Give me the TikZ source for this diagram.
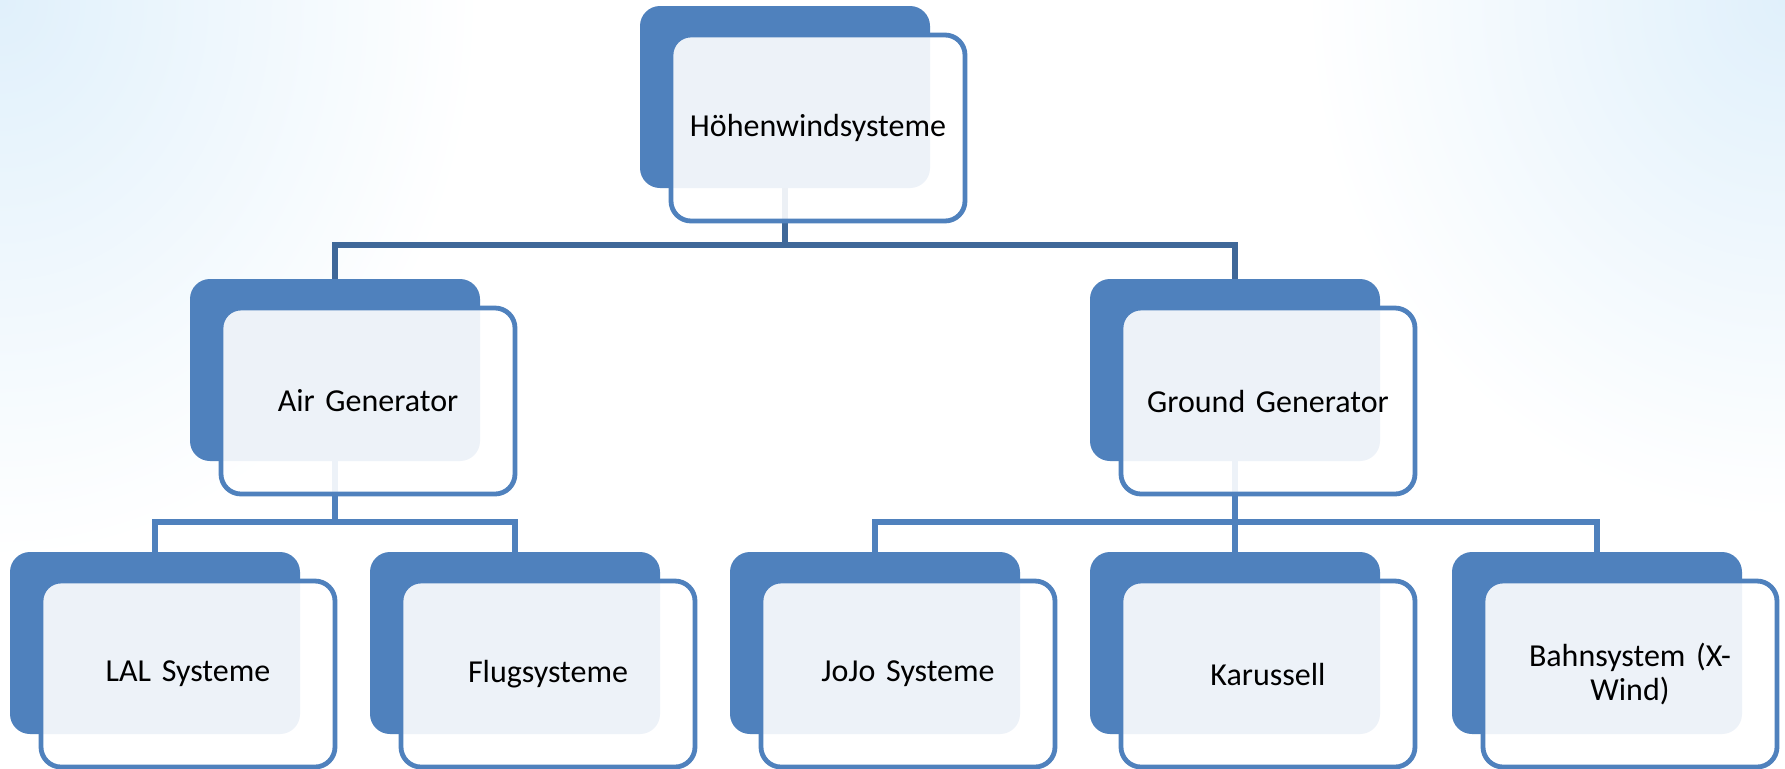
\documentclass[tikz,border=0pt]{standalone}
\usepackage{xcolor}
\usepackage{fontspec}
\setmainfont{Carlito}
\usepackage{tikz}

\definecolor{boxblue}{HTML}{4F81BD}
\definecolor{barblue}{HTML}{3F6899}
\definecolor{glowblue}{HTML}{E0F0FB}

\begin{document}
\begin{tikzpicture}[
    x=0.5pt, y=-0.5pt,
    back/.style={
        fill=boxblue,
        rounded corners=10pt,
        minimum width=145pt,
        minimum height=91pt,
        inner sep=0pt
    },
    front/.style={
        draw=boxblue,
        line width=2.4pt,
        fill=white,
        fill opacity=0.9,
        text opacity=1,
        rounded corners=10pt,
        minimum width=147pt,
        minimum height=93pt,
        text width=134pt,
        align=center,
        font=\fontsize{16}{17}\selectfont
    },
    link/.style={draw=boxblue, line width=2.6pt},
    toplink/.style={draw=barblue, line width=2.6pt}
]
    \useasboundingbox (0,0) rectangle (1785,768);
    \begin{scope}
        \clip (0,0) rectangle (1785,768);
        \fill[white] (0,0) rectangle (1785,768);
        \shade[inner color=glowblue, outer color=white] (0,0) ellipse (480 and 560);
        \shade[inner color=glowblue, outer color=white] (1785,0) ellipse (480 and 520);
    \end{scope}

    % blue back plates
    \node[back] (hws-b)  at (785,97)  {};
    \node[back] (air-b)  at (335,370) {};
    \node[back] (gnd-b)  at (1235,370) {};
    \node[back] (lal-b)  at (155,643) {};
    \node[back] (flug-b) at (515,643) {};
    \node[back] (jojo-b) at (875,643) {};
    \node[back] (kar-b)  at (1235,643) {};
    \node[back] (bahn-b) at (1597,643) {};

    % connectors
    \coordinate (hwsbar) at (785,245);
    \coordinate (airbar) at (335,522);
    \coordinate (gndbar) at (1235,522);
    \draw[toplink] (hws-b.south) -- (hwsbar);
    \draw[toplink] (air-b.north) |- (hwsbar) -| (gnd-b.north);
    \draw[link] (air-b.south) -- (airbar);
    \draw[link] (lal-b.north) |- (airbar) -| (flug-b.north);
    \draw[link] (gnd-b.south) -- (kar-b.north);
    \draw[link] (jojo-b.north) |- (gndbar) -| (bahn-b.north);

    % text boxes
    \node[front] (hws)  at ([shift={(33,31)}]hws-b)  {Höhenwindsysteme};
    \node[front] (air)  at ([shift={(33,31)}]air-b)  {Air Generator};
    \node[front] (gnd)  at ([shift={(33,31)}]gnd-b)  {Ground Generator};
    \node[front] (lal)  at ([shift={(33,31)}]lal-b)  {LAL Systeme};
    \node[front] (flug) at ([shift={(33,31)}]flug-b) {Flugsysteme};
    \node[front] (jojo) at ([shift={(33,31)}]jojo-b) {JoJo Systeme};
    \node[front] (kar)  at ([shift={(33,31)}]kar-b)  {Karussell};
    \node[front] (bahn) at ([shift={(33,31)}]bahn-b) {Bahnsystem (X-\\Wind)};
\end{tikzpicture}
\end{document}
